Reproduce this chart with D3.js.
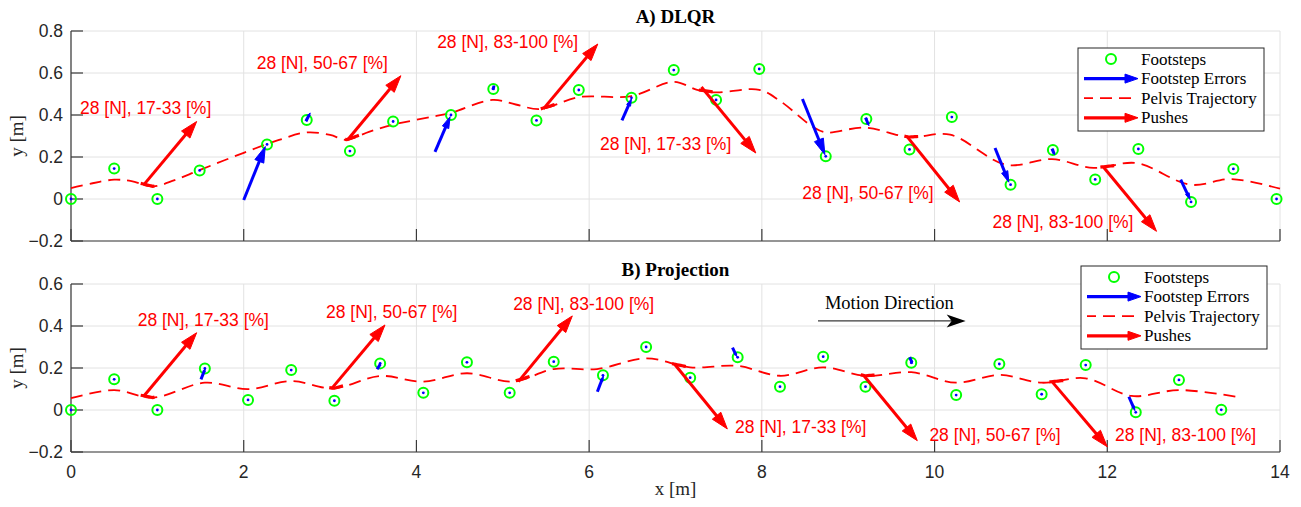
<!doctype html>
<html lang="en">
<head>
  <meta charset="utf-8">
  <title>DLQR vs Projection</title>
  <style>
    body { margin: 0; background: #fff; }
    .tick-label { font: 17.5px "Liberation Sans", Arial, sans-serif; fill: #262626; }
    .push-label { font: 17.5px "Liberation Sans", Arial, sans-serif; fill: #ff0000; }
    .serif { font-family: "Liberation Serif", "Times New Roman", serif; fill: #262626; }
    .grid line { stroke: #e2e2e2; stroke-width: 1; }
    .pelvis { fill: none; stroke: #ff0000; stroke-width: 1.8; stroke-dasharray: 12 7; }
    .step { fill: none; stroke: #00ff00; stroke-width: 2; }
  </style>
</head>
<body>
  <div id="chart"></div>
  <script src="https://d3js.org/d3.v7.min.js"></script>
  <script>
    // ---- data ----
    const xTicks = [0, 2, 4, 6, 8, 10, 12, 14];
    const yTicksA = [-0.2, 0, 0.2, 0.4, 0.6, 0.8];
    const yTicksB = [-0.2, 0, 0.2, 0.4, 0.6];
    const legendItems = ['Footsteps', 'Footstep Errors', 'Pelvis Trajectory', 'Pushes'];
    const pushLabels = ['28 [N], 17-33 [%]', '28 [N], 50-67 [%]', '28 [N], 83-100 [%]',
      '28 [N], 17-33 [%]', '28 [N], 50-67 [%]', '28 [N], 83-100 [%]'];

    // A) DLQR
    const stepXA = [0, 0.5, 1.0, 1.49, 2.27, 2.73, 3.23, 3.73, 4.40, 4.89, 5.39, 5.88, 6.49, 6.98,
      7.47, 7.97, 8.74, 9.21, 9.71, 10.20, 10.88, 11.37, 11.86, 12.36, 12.97, 13.46, 13.96];
    const stepYA = [0, 0.145, 0, 0.136, 0.26, 0.376, 0.228, 0.369, 0.40, 0.524, 0.374, 0.519, 0.482, 0.614,
      0.472, 0.619, 0.203, 0.381, 0.236, 0.39, 0.068, 0.233, 0.093, 0.238, -0.014, 0.143, 0];
    const errXA = [2.0, 2.72, 4.215, 4.885, 6.38, 8.47, 9.2, 10.7, 11.36, 12.85];
    const errYA = [-0.005, 0.37, 0.224, 0.52, 0.374, 0.476, 0.387, 0.243, 0.24, 0.092];
    const errUA = [0.25, 0.05, 0.175, 0.015, 0.11, 0.26, 0.04, 0.16, 0.03, 0.11];
    const errVA = [0.255, 0.04, 0.168, 0.02, 0.103, -0.265, -0.038, -0.163, -0.03, -0.095];
    const pelvisXA = [0, 0.25, 0.5, 0.7, 0.95, 1.2, 1.48, 2.0, 2.4, 2.73, 3.0, 3.19, 3.45, 3.73, 4.16,
      4.4, 4.88, 5.15, 5.43, 5.88, 6.49, 6.98, 7.25, 7.47, 7.97, 8.21, 8.6, 8.74, 9.2, 9.7, 10.18,
      10.83, 11.36, 11.84, 12.34, 12.96, 13.44, 14.0];
    const pelvisYA = [0.052, 0.075, 0.092, 0.085, 0.06, 0.09, 0.136, 0.22, 0.28, 0.317, 0.305, 0.282, 0.32, 0.354, 0.39,
      0.41, 0.472, 0.45, 0.428, 0.485, 0.49, 0.558, 0.52, 0.508, 0.52, 0.467, 0.341, 0.317, 0.34, 0.295, 0.306,
      0.163, 0.19, 0.148, 0.171, 0.068, 0.095, 0.049];
    const pushXA = [0.837, 3.204, 5.47, 7.30, 9.68, 11.95];
    const pushYA = [0.065, 0.282, 0.429, 0.533, 0.298, 0.155];
    const pushUA = [0.618, 0.616, 0.63, 0.63, 0.61, 0.62];
    const pushVA = [0.304, 0.305, 0.309, -0.314, -0.312, -0.309];
    const labelXA = [0.104, 2.15, 4.24, 6.125, 8.468, 10.67];
    const labelYA = [0.435, 0.65, 0.75, 0.263, 0.031, -0.107];

    // B) Projection
    const stepXB = [0, 0.5, 1.0, 1.55, 2.05, 2.55, 3.05, 3.58, 4.08, 4.585, 5.08, 5.59, 6.16, 6.66,
      7.17, 7.72, 8.21, 8.71, 9.2, 9.73, 10.25, 10.75, 11.24, 11.75, 12.33, 12.83, 13.32];
    const stepYB = [0, 0.146, 0, 0.198, 0.048, 0.19, 0.044, 0.222, 0.082, 0.227, 0.082, 0.23, 0.165, 0.30,
      0.154, 0.251, 0.111, 0.254, 0.111, 0.225, 0.071, 0.219, 0.075, 0.214, -0.011, 0.143, 0.001];
    const errXB = [1.505, 3.545, 6.095, 7.66, 9.71, 12.25];
    const errYB = [0.146, 0.194, 0.087, 0.297, 0.251, 0.063];
    const errUB = [0.05, 0.042, 0.07, 0.05, 0.035, 0.07];
    const errVB = [0.052, 0.028, 0.075, -0.043, -0.029, -0.066];
    const pelvisXB = [0, 0.5, 0.95, 1.55, 2.05, 2.55, 3.04, 3.58, 4.08, 4.585, 5.12, 5.59, 6.09, 6.66,
      7.17, 7.72, 8.21, 8.71, 9.2, 9.73, 10.25, 10.75, 11.24, 11.75, 12.28, 12.83, 13.5];
    const pelvisYB = [0.056, 0.095, 0.059, 0.13, 0.099, 0.138, 0.103, 0.162, 0.135, 0.175, 0.135, 0.195, 0.195, 0.246,
      0.203, 0.21, 0.163, 0.203, 0.163, 0.18, 0.13, 0.167, 0.13, 0.151, 0.067, 0.095, 0.063];
    const pushXB = [0.837, 3.02, 5.18, 6.99, 9.175, 11.36];
    const pushYB = [0.063, 0.103, 0.135, 0.218, 0.167, 0.135];
    const pushUB = [0.618, 0.616, 0.625, 0.61, 0.625, 0.64];
    const pushVB = [0.305, 0.302, 0.313, -0.308, -0.313, -0.31];
    const labelXB = [0.772, 2.953, 5.12, 7.69, 9.94, 12.09];
    const labelYB = [0.429, 0.468, 0.508, -0.08, -0.116, -0.116];

    // ---- layout ----
    const W = 1301, H = 507;
    const left = 71, right = 1280;

    const svg = d3.select('#chart').append('svg')
      .attr('width', W)
      .attr('height', H);

    const x = d3.scaleLinear().domain([0, 14]).range([left, right]);

    // draw an arrow in pixel space (filled head)
    function arrow(g, x0, y0, x1, y1, color, width, headLen, headW) {
      const dx = x1 - x0, dy = y1 - y0;
      const len = Math.hypot(dx, dy);
      if (len < 0.5) return;
      const ux = dx / len, uy = dy / len;
      const hl = Math.min(headLen, len);
      const bx = x1 - ux * hl, by = y1 - uy * hl;
      g.append('line')
        .attr('x1', x0).attr('y1', y0)
        .attr('x2', bx + ux * 1).attr('y2', by + uy * 1)
        .attr('stroke', color)
        .attr('stroke-width', width);
      g.append('path')
        .attr('d', `M${x1},${y1}L${bx - uy * headW},${by + ux * headW}L${bx + uy * headW},${by - ux * headW}Z`)
        .attr('fill', color)
        .attr('stroke', color)
        .attr('stroke-width', 1)
        .attr('stroke-linejoin', 'miter');
    }

    function interp(xs, ys, v) {
      const i = Math.max(1, Math.min(xs.length - 1, d3.bisectLeft(xs, v)));
      const t = (v - xs[i - 1]) / (xs[i] - xs[i - 1]);
      return ys[i - 1] + t * (ys[i] - ys[i - 1]);
    }

    function drawPanel(p) {
      const y = d3.scaleLinear().domain(p.yDomain).range([p.bottom, p.top]);
      const g = svg.append('g');

      // grid
      const grid = g.append('g').attr('class', 'grid');
      grid.selectAll('.gx').data(xTicks).join('line')
        .attr('x1', d => x(d)).attr('x2', d => x(d))
        .attr('y1', p.top).attr('y2', p.bottom);
      grid.selectAll('.gy').data(p.yTicks).join('line')
        .attr('x1', left).attr('x2', right)
        .attr('y1', d => y(d)).attr('y2', d => y(d));

      // axes (left + bottom, ticks pointing in)
      const ax = g.append('g').attr('stroke', '#3a3a3a').attr('stroke-width', 1.2);
      ax.append('line').attr('x1', left).attr('x2', right).attr('y1', p.bottom).attr('y2', p.bottom);
      ax.append('line').attr('x1', left).attr('x2', left).attr('y1', p.top).attr('y2', p.bottom);
      xTicks.forEach(d => {
        ax.append('line').attr('x1', x(d)).attr('x2', x(d)).attr('y1', p.bottom).attr('y2', p.bottom - 12);
      });
      p.yTicks.forEach(d => {
        ax.append('line').attr('x1', left).attr('x2', left + 12).attr('y1', y(d)).attr('y2', y(d));
      });

      g.selectAll('.ytl').data(p.yTicks).join('text')
        .attr('class', 'tick-label')
        .attr('x', left - 8)
        .attr('y', d => y(d))
        .attr('dy', '0.36em')
        .attr('text-anchor', 'end')
        .text(d => d3.format('.1f')(d).replace('0.0', '0').replace(/^0$/, '0'));

      if (p.showX) {
        g.selectAll('.xtl').data(xTicks).join('text')
          .attr('class', 'tick-label')
          .attr('x', d => x(d))
          .attr('y', p.bottom + 20)
          .attr('dy', '0.36em')
          .attr('text-anchor', 'middle')
          .text(d => d);
        g.append('text')
          .attr('class', 'serif')
          .attr('x', (left + right) / 2)
          .attr('y', p.bottom + 43)
          .attr('text-anchor', 'middle')
          .style('font-size', '19px')
          .text('x [m]');
      }

      // y label
      g.append('text')
        .attr('class', 'serif')
        .attr('transform', `translate(23,${(p.top + p.bottom) / 2}) rotate(-90)`)
        .attr('text-anchor', 'middle')
        .style('font-size', '19px')
        .text('y [m]');

      // title
      g.append('text')
        .attr('class', 'serif')
        .attr('x', (left + right) / 2)
        .attr('y', p.top - 8)
        .attr('text-anchor', 'middle')
        .style('font-size', '19px')
        .style('font-weight', 'bold')
        .style('fill', '#000')
        .text(p.title);

      // pelvis trajectory
      const line = d3.line().x(d => x(d[0])).y(d => y(d[1])).curve(d3.curveCatmullRom.alpha(0.5));
      g.append('path')
        .attr('class', 'pelvis')
        .attr('d', line(d3.zip(p.pelvisX, p.pelvisY)));

      // footsteps
      g.selectAll('.step').data(d3.zip(p.stepX, p.stepY)).join('circle')
        .attr('class', 'step')
        .attr('cx', d => x(d[0]))
        .attr('cy', d => y(d[1]))
        .attr('r', 5);
      g.selectAll('.dot').data(d3.zip(p.stepX, p.stepY)).join('circle')
        .attr('cx', d => x(d[0]))
        .attr('cy', d => y(d[1]))
        .attr('r', 1.4)
        .attr('fill', '#0000ff');

      // footstep errors
      const eg = g.append('g');
      p.errX.forEach((ex, i) => {
        const x0 = x(ex), y0 = y(p.errY[i]);
        const x1 = x(ex + p.errU[i]), y1 = y(p.errY[i] + p.errV[i]);
        const len = Math.hypot(x1 - x0, y1 - y0);
        arrow(eg, x0, y0, x1, y1, '#0000ff', 3, Math.min(0.3 * len, 16), Math.min(0.3 * len, 16) * 0.3);
      });

      // pushes
      const pg = g.append('g');
      p.pushX.forEach((px, i) => {
        // thick piece of trajectory where the push acts
        const seg = d3.range(px - 0.03, px + 0.131, 0.02).map(v => [v, interp(p.pelvisX, p.pelvisY, v)]);
        pg.append('path')
          .attr('d', d3.line().x(d => x(d[0])).y(d => y(d[1]))(seg))
          .attr('fill', 'none').attr('stroke', '#ff0000').attr('stroke-width', 3.2);
        arrow(pg, x(px), y(p.pushY[i]), x(px + p.pushU[i]), y(p.pushY[i] + p.pushV[i]),
          '#ff0000', 3, 17, 5.5);
      });
      g.selectAll('.push-label').data(pushLabels).join('text')
        .attr('class', 'push-label')
        .attr('x', (d, i) => x(p.labelX[i]))
        .attr('y', (d, i) => y(p.labelY[i]))
        .attr('dy', '0.36em')
        .text(d => d);

      // legend
      const lg = g.append('g').attr('transform', `translate(${p.legend[0]},${p.legend[1]})`);
      lg.append('rect')
        .attr('width', 186).attr('height', 83)
        .attr('fill', '#fff').attr('stroke', '#262626').attr('stroke-width', 1);
      legendItems.forEach((t, i) => {
        const ly = 11 + i * 19.6;
        if (i === 0) {
          lg.append('circle').attr('class', 'step').attr('cx', 33).attr('cy', ly).attr('r', 5);
        } else if (i === 2) {
          lg.append('line').attr('class', 'pelvis')
            .attr('x1', 6).attr('x2', 60).attr('y1', ly).attr('y2', ly)
            .attr('stroke-dashoffset', 3);
        } else {
          arrow(lg, 6, ly, 60, ly, i === 1 ? '#0000ff' : '#ff0000', 3.2, 13, 4.5);
        }
        lg.append('text')
          .attr('class', 'serif')
          .attr('x', 63)
          .attr('y', ly)
          .attr('dy', '0.33em')
          .style('font-size', '17px')
          .style('fill', '#000')
          .text(t);
      });

      return y;
    }

    drawPanel({
      title: 'A) DLQR', top: 31, bottom: 241, yDomain: [-0.2, 0.8], yTicks: yTicksA, showX: false,
      stepX: stepXA, stepY: stepYA, errX: errXA, errY: errYA, errU: errUA, errV: errVA,
      pelvisX: pelvisXA, pelvisY: pelvisYA, pushX: pushXA, pushY: pushYA, pushU: pushUA, pushV: pushVA,
      labelX: labelXA, labelY: labelYA, legend: [1078, 48]
    });

    const yB = drawPanel({
      title: 'B) Projection', top: 284, bottom: 452, yDomain: [-0.2, 0.6], yTicks: yTicksB, showX: true,
      stepX: stepXB, stepY: stepYB, errX: errXB, errY: errYB, errU: errUB, errV: errVB,
      pelvisX: pelvisXB, pelvisY: pelvisYB, pushX: pushXB, pushY: pushYB, pushU: pushUB, pushV: pushVB,
      labelX: labelXB, labelY: labelYB, legend: [1081, 266]
    });

    // motion direction annotation
    const mx0 = x(8.65), mx1 = x(10.36), my = yB(0.424);
    svg.append('line')
      .attr('x1', mx0).attr('x2', mx1 - 12).attr('y1', my).attr('y2', my)
      .attr('stroke', '#3a3a3a').attr('stroke-width', 1.3);
    svg.append('path')
      .attr('d', `M${mx1},${my}L${mx1 - 19},${my - 6.5}L${mx1 - 14},${my}L${mx1 - 19},${my + 6.5}Z`)
      .attr('fill', '#000');
    svg.append('text')
      .attr('class', 'serif')
      .attr('x', x(8.73))
      .attr('y', yB(0.51))
      .attr('dy', '0.33em')
      .style('font-size', '18.5px')
      .style('fill', '#000')
      .text('Motion Direction');
  </script>
</body>
</html>
